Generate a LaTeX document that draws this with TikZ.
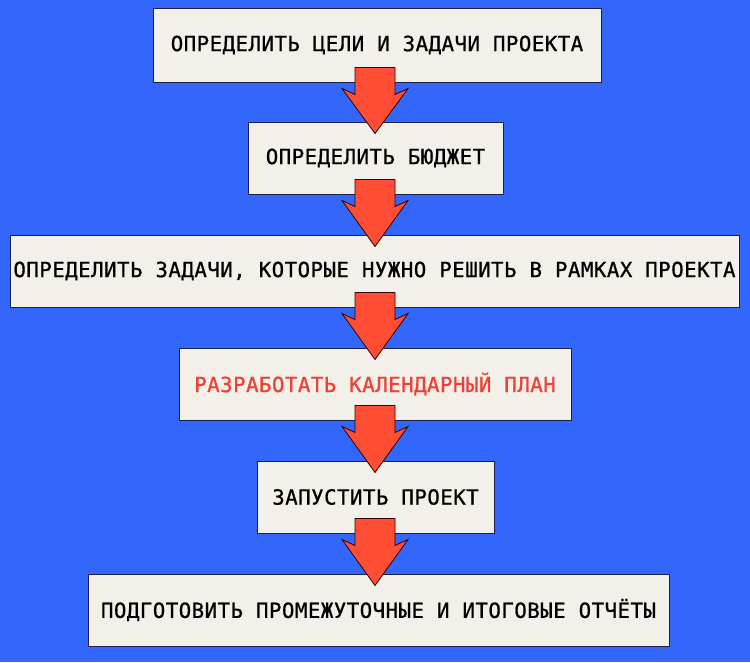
\documentclass[tikz,border=0pt]{standalone}
\usepackage{fontspec}
\setmainfont{DejaVu Sans Mono}[LetterSpace=2.1, FakeBold=0.8]
\usetikzlibrary{calc}
\definecolor{bgblue}{HTML}{3366FA}
\definecolor{boxfill}{HTML}{F3F0EA}
\definecolor{boxline}{HTML}{1C1F4A}
\definecolor{arrred}{HTML}{FF4E33}
\definecolor{txtred}{HTML}{EE4035}
\tikzset{
  stepbox/.style={draw=boxline, line width=1pt, fill=boxfill, inner sep=0pt,
    font=\fontsize{20.8}{24}\selectfont, text=black},
  bigarr/.style={draw=black!80!red, line width=0.8pt, fill=arrred, line join=miter}
}
\newcommand\flowarr[2]{%
  \draw[bigarr] let \p1=($(#1.south)+(0,-15)$), \p2=($(#2.north)+(0,12)$) in
    (355pt,\y1) -- (395pt,\y1) -- (395pt,\y1-27pt) -- (408pt,\y1-21pt) --
    (375pt,\y2) -- (342pt,\y1-21pt) -- (355pt,\y1-27pt) -- cycle;}
\begin{document}
\begin{tikzpicture}[x=1pt,y=-1pt]
\fill[bgblue] (0,0) rectangle (750,662);
\useasboundingbox (0,0) rectangle (750,662);
\node[stepbox, minimum width=448pt, minimum height=74pt] (b1) at (377,45) {ОПРЕДЕЛИТЬ ЦЕЛИ И ЗАДАЧИ ПРОЕКТА};
\node[stepbox, minimum width=255pt, minimum height=72pt] (b2) at (375.5,158) {ОПРЕДЕЛИТЬ БЮДЖЕТ};
\node[stepbox, minimum width=729pt, minimum height=72pt] (b3) at (374.5,271) {ОПРЕДЕЛИТЬ ЗАДАЧИ, КОТОРЫЕ НУЖНО РЕШИТЬ В РАМКАХ ПРОЕКТА};
\node[stepbox, minimum width=392pt, minimum height=72pt, text=txtred] (b4) at (375,384) {РАЗРАБОТАТЬ КАЛЕНДАРНЫЙ ПЛАН};
\node[stepbox, minimum width=237pt, minimum height=72pt] (b5) at (375.5,497) {ЗАПУСТИТЬ ПРОЕКТ};
\node[stepbox, minimum width=581pt, minimum height=72pt] (b6) at (378.5,610) {ПОДГОТОВИТЬ ПРОМЕЖУТОЧНЫЕ И ИТОГОВЫЕ ОТЧЁТЫ};
\flowarr{b1}{b2}
\flowarr{b2}{b3}
\flowarr{b3}{b4}
\flowarr{b4}{b5}
\flowarr{b5}{b6}
\end{tikzpicture}
\end{document}
